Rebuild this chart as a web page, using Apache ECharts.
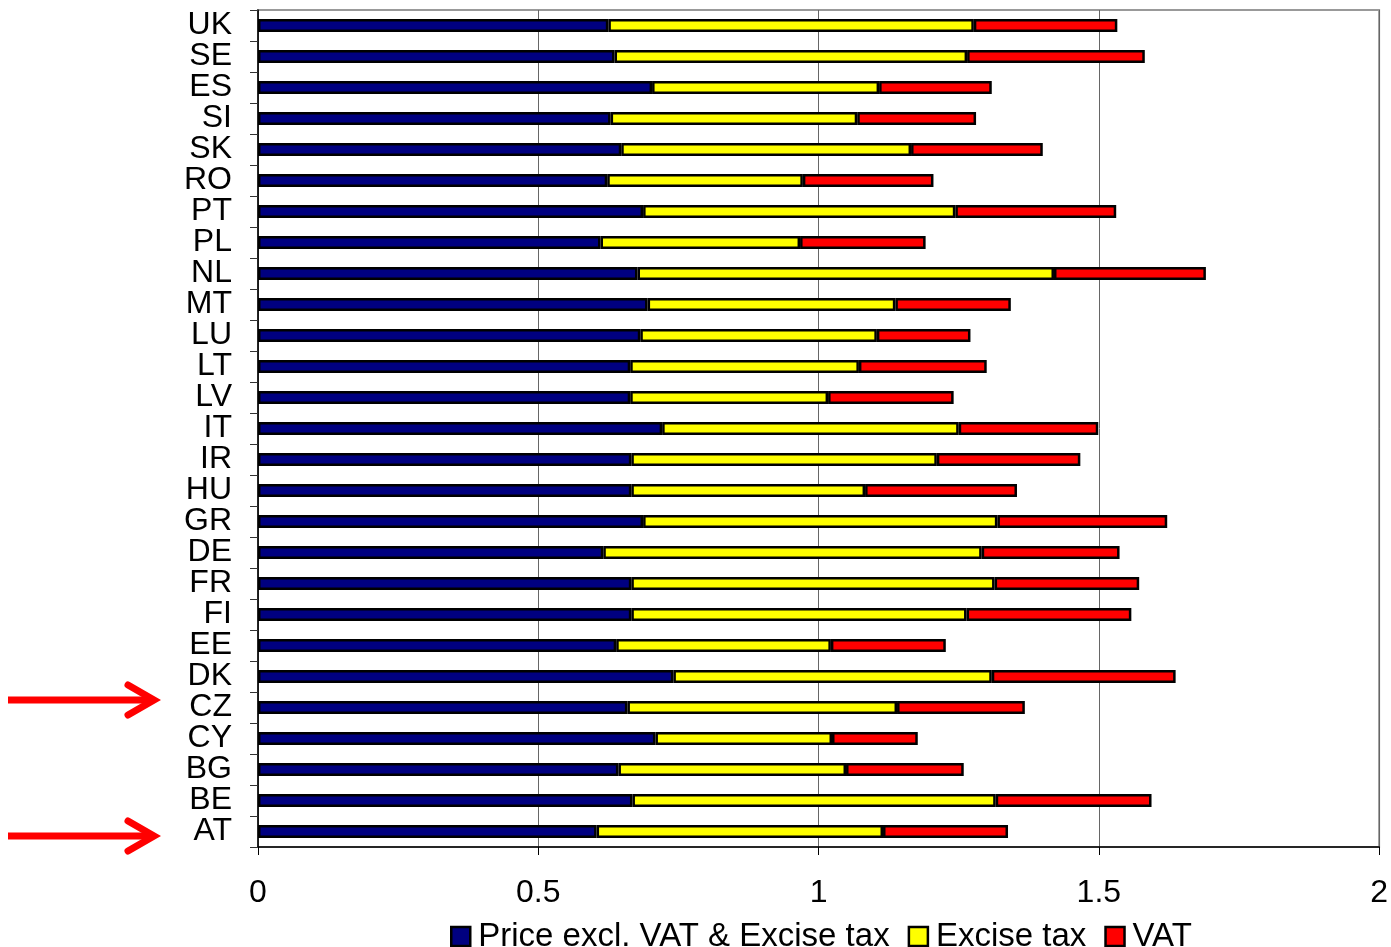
<!DOCTYPE html>
<html>
<head>
<meta charset="utf-8">
<script src="https://cdn.jsdelivr.net/npm/echarts@6/dist/echarts.min.js"></script>
<style>
  html, body { margin: 0; padding: 0; background: #fff; }
  #chart { width: 1391px; height: 947px; }
</style>
</head>
<body>
<div id="chart"></div>
<script>
// countries, bottom to top
var countries = ['AT', 'BE', 'BG', 'CY', 'CZ', 'DK', 'EE', 'FI', 'FR', 'DE', 'GR', 'HU', 'IR', 'IT',
  'LV', 'LT', 'LU', 'MT', 'NL', 'PL', 'PT', 'RO', 'SK', 'SI', 'ES', 'SE', 'UK'];

var priceExcl = [0.604, 0.668, 0.643, 0.709, 0.659, 0.741, 0.639, 0.666, 0.666, 0.616, 0.687, 0.666, 0.666, 0.721,
  0.664, 0.664, 0.682, 0.695, 0.677, 0.611, 0.687, 0.623, 0.648, 0.629, 0.703, 0.636, 0.625];

var excise = [0.511, 0.648, 0.406, 0.315, 0.481, 0.568, 0.383, 0.598, 0.648, 0.675, 0.632, 0.417, 0.545, 0.529,
  0.353, 0.408, 0.422, 0.442, 0.743, 0.356, 0.557, 0.349, 0.517, 0.440, 0.405, 0.629, 0.652];

var vat = [0.223, 0.278, 0.210, 0.153, 0.228, 0.328, 0.205, 0.294, 0.258, 0.246, 0.303, 0.271, 0.256, 0.249,
  0.224, 0.228, 0.167, 0.206, 0.271, 0.224, 0.287, 0.233, 0.235, 0.212, 0.201, 0.317, 0.256];

var xTicks = [0, 0.5, 1, 1.5, 2];

var seriesNames = ['Price excl. VAT & Excise tax', 'Excise tax', 'VAT'];
var seriesColors = ['#000080', '#ffff00', '#ff0000'];
var seriesData = [priceExcl, excise, vat];

var dom = document.getElementById('chart');
var myChart = echarts.init(dom);

var font = 'Liberation Sans, Arial, sans-serif';

var series = seriesNames.map(function (name, i) {
  return {
    name: name,
    type: 'bar',
    stack: 'total',
    barWidth: 13,
    itemStyle: {
      color: seriesColors[i],
      borderColor: '#000',
      borderWidth: 2.5
    },
    data: seriesData[i]
  };
});

function arrow(y) {
  return {
    type: 'group',
    children: [
      {
        type: 'line',
        shape: { x1: 8, y1: y, x2: 152, y2: y },
        style: { stroke: '#ff0000', lineWidth: 7 }
      },
      {
        type: 'polyline',
        shape: { points: [[128, y - 15], [154, y], [128, y + 15]] },
        style: { stroke: '#ff0000', lineWidth: 7, fill: null, lineJoin: 'miter', lineCap: 'round' }
      }
    ]
  };
}

var option = {
  animation: false,
  backgroundColor: '#fff',
  grid: {
    left: 258,
    right: 10,
    top: 10,
    bottom: 100,
    show: true,
    borderColor: '#999',
    borderWidth: 2
  },
  legend: {
    left: 445,
    top: 915,
    icon: 'rect',
    itemWidth: 19,
    itemHeight: 19,
    itemGap: 18,
    selectedMode: false,
    textStyle: { fontFamily: font, fontSize: 33, color: '#000', padding: [0, 0, 0, 3] },
    itemStyle: { borderColor: '#000', borderWidth: 2.5 },
    data: seriesNames
  },
  xAxis: {
    type: 'value',
    min: xTicks[0],
    max: xTicks[xTicks.length - 1],
    interval: 0.5,
    axisLine: { show: true, lineStyle: { color: '#000', width: 1.5 } },
    axisTick: { show: true, length: 8, lineStyle: { color: '#000' } },
    axisLabel: { fontFamily: font, fontSize: 32, color: '#000', margin: 30 },
    splitLine: { show: true, lineStyle: { color: '#666', width: 1 } }
  },
  yAxis: {
    type: 'category',
    data: countries,
    axisLine: { show: true, lineStyle: { color: '#000', width: 1.5 } },
    axisTick: { show: true, length: 8, alignWithLabel: false, lineStyle: { color: '#333' } },
    axisLabel: { fontFamily: font, fontSize: 32, color: '#000', margin: 26, interval: 0 }
  },
  graphic: [arrow(700), arrow(836)],
  series: series
};

if (option && typeof option === 'object') {
  myChart.setOption(option, true);
}
</script>
</body>
</html>
